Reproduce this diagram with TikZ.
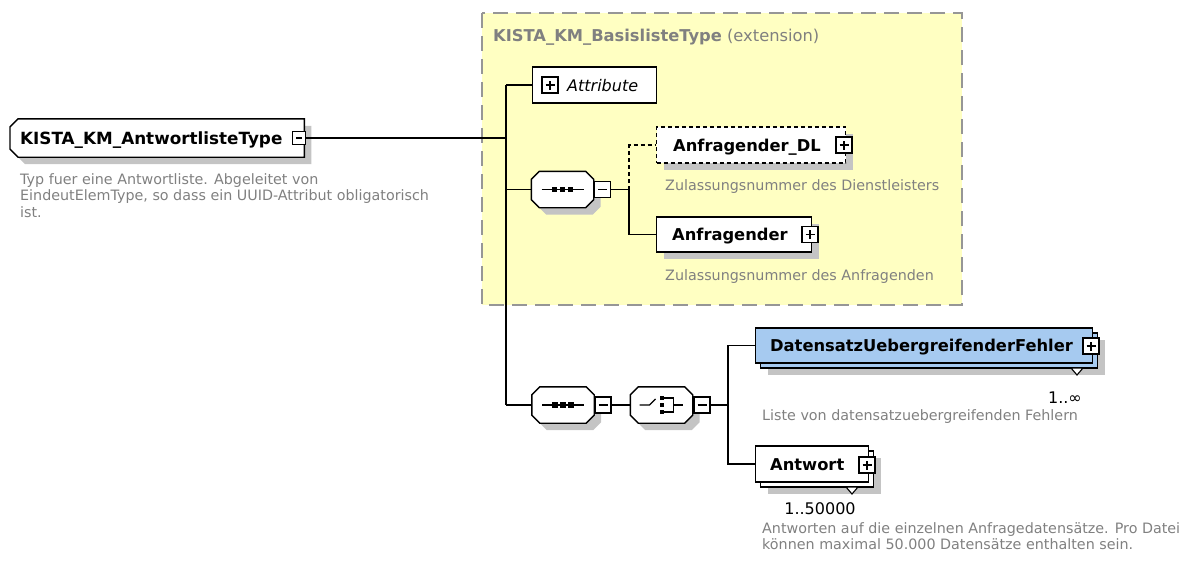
\documentclass[tikz,border=0pt]{standalone}
\usepackage{fontspec}
\setmainfont{DejaVu Sans}
\usetikzlibrary{shadows}
\definecolor{bgyellow}{RGB}{255,255,194}
\definecolor{descgray}{RGB}{128,128,128}
\definecolor{framegray}{RGB}{150,150,150}
\definecolor{shadowgray}{RGB}{196,196,196}
\definecolor{elemblue}{RGB}{166,202,240}
% octagon outline around a named (invisible) node
\newcommand\octpath[1]{([xshift=8pt]#1.north west) -- ([xshift=-8pt]#1.north east) -- ([yshift=-8pt]#1.north east) -- ([yshift=8pt]#1.south east) -- ([xshift=-8pt]#1.south east) -- ([xshift=8pt]#1.south west) -- ([yshift=8pt]#1.south west) -- ([yshift=-8pt]#1.north west) -- cycle}
\newcommand\leftchampath[1]{([xshift=8pt]#1.north west) -- (#1.north east) -- (#1.south east) -- ([xshift=8pt]#1.south west) -- ([yshift=8pt]#1.south west) -- ([yshift=-8pt]#1.north west) -- cycle}
\begin{document}
\begin{tikzpicture}[x=1pt,y=-1pt,
  elbox/.style={draw=black, line width=1.4pt, fill=white, inner sep=0, anchor=west},
  shad/.style={general shadow={fill=shadowgray, shadow xshift=7pt, shadow yshift=-7pt}},
  octo/.style={inner sep=0, minimum width=62pt, minimum height=36pt},
  octline/.style={draw=black, line width=1.4pt, fill=white},
  octshadow/.style={fill=shadowgray, transform canvas={xshift=7pt, yshift=-7pt}},
  pmbox/.style={draw=black, line width=1.1pt, fill=white, minimum size=16pt, inner sep=0},
  plusbox/.style={pmbox, path picture={\draw[line width=1.1pt]
     ([xshift=3.5pt]path picture bounding box.west) -- ([xshift=-3.5pt]path picture bounding box.east)
     ([yshift=3.5pt]path picture bounding box.south) -- ([yshift=-3.5pt]path picture bounding box.north);}},
  minusbox/.style={pmbox, path picture={\draw[line width=1.1pt]
     ([xshift=3.5pt]path picture bounding box.west) -- ([xshift=-3.5pt]path picture bounding box.east);}},
  ellabel/.style={anchor=base west, inner sep=0, font=\bfseries\fontsize{16.3}{19}\selectfont},
  desctext/.style={anchor=base west, inner sep=0, align=left, text=descgray, font=\fontsize{14.3}{16.5}\selectfont},
  cardtext/.style={inner sep=0, font=\fontsize{16}{19}\selectfont},
  conn/.style={line width=1.5pt},
  dconn/.style={line width=1.5pt, dash pattern=on 4pt off 3pt}
]
\useasboundingbox (0,0) rectangle (1197,560);

% extension frame
\draw[framegray, line width=1.5pt, dash pattern=on 15pt off 8pt, fill=bgyellow] (482,13) rectangle (962,305);
\node[anchor=base west, inner sep=0, text=descgray, font=\fontsize{16.3}{19}\selectfont] (title) at (493,41)
  {\textbf{KISTA\_KM\_BasislisteType} (extension)};

% root
\node[inner sep=0, anchor=west, minimum width=294pt, minimum height=38pt] (root) at (10,138) {};
\fill[octshadow] \leftchampath{root};
\draw[octline] \leftchampath{root};
\node[ellabel, font=\bfseries\fontsize{16.8}{19}\selectfont] (rootlbl) at (20,144) {KISTA\_KM\_AntwortlisteType};
\node[minusbox, minimum size=13pt] (rootm) at (299,138) {};
\node[desctext] (rootdesc) at (20,217) {Typ fuer eine Antwortliste. Abgeleitet von\\EindeutElemType, so dass ein UUID-Attribut obligatorisch\\ist.};

% spine
\coordinate (sT) at (506,85);
\coordinate (sB) at (506,405);
\draw[conn] (sT) -- (sB);
\draw[conn] (rootm.east) -- (rootm.east -| sT);

% Attribute
\node[elbox, minimum width=124pt, minimum height=36pt] (attr) at (532,85) {};
\node[plusbox] (attrp) at (550,85) {};
\node[anchor=base west, inner sep=0, font=\itshape\fontsize{16}{19}\selectfont] (attrlbl) at (567,91) {Attribute};
\draw[conn] (sT) -- (attr.west);

% sequence 1
\node[octo] (seq1) at (562.5,189.5) {};
\fill[octshadow] \octpath{seq1};
\draw[octline] \octpath{seq1};
\node[minusbox] (seq1m) at (602.5,189.5) {};
\draw[conn] (seq1.west -| sT) -- (seq1.west);
\coordinate (c1) at (629,189.5);
\draw[conn] (seq1m.east) -- (c1);

% Anfragender_DL
\node[elbox, shad, dash pattern=on 4pt off 3pt, minimum width=189pt, minimum height=36pt] (dl) at (656,145) {};
\node[ellabel] (dllbl) at (673,151) {Anfragender\_DL};
\node[plusbox] (dlp) at (844,145) {};
\node[desctext] (dldesc) at (665,190) {Zulassungsnummer des Dienstleisters};
\draw[dconn] (c1) |- (dl.west);

% Anfragender
\node[elbox, shad, minimum width=155pt, minimum height=35pt] (anf) at (656,234.5) {};
\node[ellabel] (anflbl) at (672,240.5) {Anfragender};
\node[plusbox] (anfp) at (810,234.5) {};
\node[desctext] (anfdesc) at (665,280) {Zulassungsnummer des Anfragenden};
\draw[conn] (c1) |- (anf.west);

% sequence 2 and choice
\node[octo] (seq2) at (563,405) {};
\fill[octshadow] \octpath{seq2};
\draw[octline] \octpath{seq2};
\node[minusbox] (seq2m) at (603,405) {};
\node[octo] (cho) at (661.5,405) {};
\fill[octshadow] \octpath{cho};
\draw[octline] \octpath{cho};
\node[minusbox] (chom) at (702,405) {};
\draw[conn] (sB) -- (seq2.west);
\draw[conn] (seq2m.east) -- (cho.west);
\coordinate (c2) at (728,405);
\draw[conn] (chom.east) -- (c2);

% sequence glyphs
\foreach \s in {seq1,seq2}{
  \begin{scope}[shift={(\s.center)}]
    \draw[line width=1.1pt] (-21,0) -- (21,0);
    \foreach \dx in {-8,0,8} \fill (\dx-2.6,-2.6) rectangle (\dx+2.6,2.6);
  \end{scope}
}
% choice glyph
\begin{scope}[shift={(cho.center)}]
  \draw[line width=1.1pt] (-22,0) -- (-12,0) -- (-6,-6);
  \foreach \dy in {-7,0,7} \fill (-2,\dy-2) rectangle (2,\dy+2);
  \draw[line width=1.1pt] (2,-7) -- (12,-7) -- (12,7) -- (2,7);
  \draw[line width=1.1pt] (12,0) -- (21,0);
\end{scope}

% DatensatzUebergreifenderFehler
\node[elbox, shad, fill=elemblue, minimum width=337pt, minimum height=35pt] (dufb) at (760,350.5) {};
\node[elbox, fill=elemblue, minimum width=337pt, minimum height=35pt] (duf) at (755,345.5) {};
\node[ellabel] (duflbl) at (770,351.5) {DatensatzUebergreifenderFehler};
\node[plusbox] (dufp) at (1091,346) {};
\draw[line width=1.1pt, fill=white] (1071,368) -- (1083,368) -- (1077,375) -- cycle;
\node[cardtext, anchor=base east] (dufcard) at (1082,403) {1..\char"221E};
\node[desctext] (dufdesc) at (762,420) {Liste von datensatzuebergreifenden Fehlern};
\draw[conn] (c2) |- (duf.west);

% Antwort
\node[elbox, shad, minimum width=113pt, minimum height=36pt] (antb) at (760,469) {};
\node[elbox, minimum width=113pt, minimum height=36pt] (ant) at (755,464) {};
\node[ellabel] (antlbl) at (770,470) {Antwort};
\node[plusbox] (antp) at (867,465) {};
\draw[line width=1.1pt, fill=white] (846,487) -- (858,487) -- (852,494) -- cycle;
\node[cardtext, anchor=base] (antcard) at (820,514) {1..50000};
\node[desctext] (antdesc) at (762,549.5) {Antworten auf die einzelnen Anfragedatensätze. Pro Datei\\können maximal 50.000 Datensätze enthalten sein.};
\draw[conn] (c2) |- (ant.west);
\end{tikzpicture}
\end{document}
